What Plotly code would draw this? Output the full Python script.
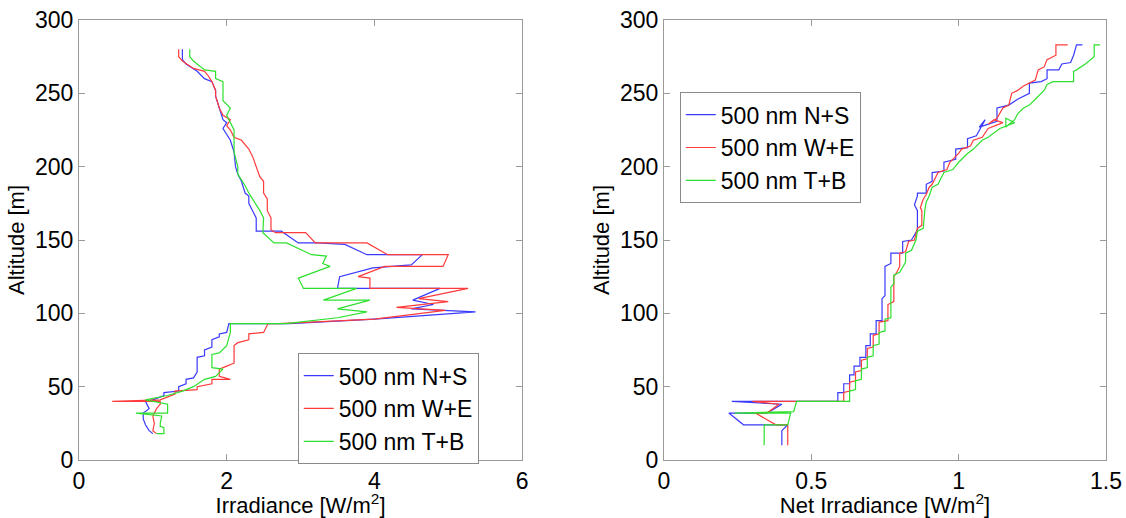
import plotly.graph_objects as go

# ---------------- data ----------------
series_names = ["500 nm N+S", "500 nm W+E", "500 nm T+B"]

# Left panel: (irradiance W/m2, altitude m), path order bottom -> top
left_ns = [(1.00,18),(0.95,20),(0.90,24),(0.87,28),(0.87,32),(0.95,35),(0.90,40),(1.00,41),(1.15,44),(1.15,46),
           (1.35,47),(1.35,50),(1.45,52),(1.45,55),(1.55,56),(1.60,60),(1.60,70),(1.70,71),(1.70,75),(1.80,77),
           (1.80,82),(1.90,84),(1.90,86),(2.00,87),(2.03,93),(2.85,93),(4.00,96),(5.37,101),(4.50,103),(4.80,106),
           (4.52,109),(4.89,117),(3.50,117),(3.53,125),(3.98,131),(4.50,133),(4.65,140),(3.90,140),(3.60,147),(3.24,148),
           (2.97,148),(2.74,156),(2.40,156),(2.40,165),(2.35,170),(2.30,175),(2.30,180),(2.25,182),(2.20,190),(2.15,195),
           (2.12,200),(2.10,210),(2.05,218),(2.00,222),(1.95,226),(2.00,230),(1.95,232),(1.90,240),(1.85,248),(1.85,252),
           (1.80,258),(1.70,260),(1.60,265),(1.45,270),(1.40,273),(1.40,280)]
left_we = [(1.05,18),(1.00,20),(1.02,25),(1.00,30),(1.05,35),(1.10,38),(1.10,40),(0.45,40),(1.10,41),(1.30,45),
           (1.30,47),(1.60,48),(1.60,50),(1.80,52),(1.80,55),(2.05,55),(1.90,57),(1.90,62),(2.00,64),(2.10,66),
           (2.10,78),(2.15,80),(2.30,82),(2.30,86),(2.50,87),(2.56,93),(2.70,93),(4.00,96),(4.96,102),(4.30,104),
           (5.00,108),(4.60,110),(5.27,117),(3.94,117),(3.94,124),(3.78,125),(4.14,132),(4.93,132),(5.00,140),(4.18,140),
           (3.90,148),(3.20,148),(3.07,155),(2.66,155),(2.60,157),(2.60,165),(2.55,170),(2.55,178),(2.50,182),(2.50,190),
           (2.45,193),(2.40,200),(2.35,207),(2.30,212),(2.20,218),(2.10,220),(2.05,225),(2.00,228),(2.05,232),(1.95,235),
           (1.90,240),(1.85,248),(1.85,252),(1.80,258),(1.75,262),(1.70,265),(1.55,267),(1.40,272),(1.35,275),(1.35,280)]
left_tb = [(1.05,18),(1.15,18),(1.15,22),(1.10,23),(1.10,25),(1.12,30),(0.77,32),(1.20,32),(1.20,38),(1.00,40),
           (0.90,41),(1.20,44),(1.40,47),(1.55,50),(1.65,53),(1.70,55),(1.85,57),(1.95,62),(1.80,63),(1.80,72),
           (1.90,73),(2.00,78),(2.05,87),(2.05,93),(2.80,93),(3.50,97),(3.90,101),(3.50,103),(3.94,109),(3.31,109),
           (3.76,117),(3.04,117),(2.97,124),(3.35,131),(3.40,132),(3.30,134),(3.35,139),(3.15,140),(2.85,147),(2.81,148),
           (2.64,148),(2.49,155),(2.50,165),(2.45,170),(2.35,178),(2.30,182),(2.25,187),(2.15,195),(2.15,200),(2.10,210),
           (2.10,225),(2.05,230),(2.00,235),(2.05,240),(1.95,245),(1.95,258),(1.85,260),(1.85,265),(1.70,266),(1.55,272),
           (1.50,275),(1.50,280)]

# Right panel: (net irradiance W/m2, altitude m)
right_ns = [(0.40,10),(0.40,20),(0.42,24),(0.27,24),(0.22,32),(0.35,32),(0.40,38),(0.23,40),(0.59,40),(0.59,46),
            (0.61,46),(0.61,52),(0.63,52),(0.63,58),(0.645,58),(0.645,64),(0.665,64),(0.665,70),(0.685,70),(0.685,78),
            (0.70,78),(0.70,86),(0.72,86),(0.72,95),(0.74,95),(0.74,110),(0.75,112),(0.75,132),(0.77,134),(0.77,141),
            (0.81,141),(0.81,149),(0.84,150),(0.86,157),(0.86,170),(0.85,174),(0.86,180),(0.86,182),(0.89,182),(0.89,188),
            (0.91,190),(0.91,196),(0.95,197),(0.95,203),(0.99,205),(0.99,212),(1.03,213),(1.03,219),(1.06,221),(1.08,228),
            (1.09,232),(1.07,227),(1.10,229),(1.13,231),(1.13,240),(1.17,242),(1.20,246),(1.22,248),(1.24,250),(1.24,257),
            (1.28,258),(1.30,260),(1.30,266),(1.34,266),(1.35,270),(1.38,271),(1.39,276),(1.40,283),(1.42,283)]
right_we = [(0.42,10),(0.42,24),(0.38,24),(0.31,32),(0.35,32),(0.39,38),(0.30,40),(0.61,40),(0.61,46),(0.63,47),
            (0.63,53),(0.65,54),(0.65,60),(0.67,61),(0.67,68),(0.69,69),(0.69,76),(0.71,77),(0.71,85),(0.73,86),
            (0.73,94),(0.76,95),(0.76,106),(0.78,108),(0.78,125),(0.79,128),(0.80,132),(0.80,141),(0.82,142),(0.83,149),
            (0.85,150),(0.86,158),(0.875,160),(0.875,170),(0.87,172),(0.88,178),(0.89,181),(0.90,186),(0.91,188),(0.93,196),
            (0.96,198),(0.97,203),(1.00,209),(1.01,212),(1.04,214),(1.05,218),(1.08,220),(1.10,226),(1.15,230),(1.12,232),
            (1.10,229),(1.13,233),(1.15,240),(1.17,242),(1.18,250),(1.20,252),(1.22,255),(1.26,259),(1.27,266),(1.29,268),
            (1.30,273),(1.33,276),(1.33,283),(1.37,283)]
right_tb = [(0.34,10),(0.34,24),(0.42,24),(0.43,32),(0.24,32),(0.44,33),(0.45,40),(0.63,40),(0.63,47),(0.65,48),
            (0.65,54),(0.67,55),(0.67,62),(0.69,63),(0.69,70),(0.71,71),(0.71,78),(0.73,79),(0.73,87),(0.75,88),
            (0.75,96),(0.77,97),(0.77,118),(0.78,120),(0.78,126),(0.80,128),(0.82,135),(0.82,141),(0.84,143),(0.855,150),
            (0.86,156),(0.88,158),(0.885,170),(0.89,176),(0.90,180),(0.91,186),(0.93,188),(0.95,196),(0.98,198),(1.00,203),
            (1.03,209),(1.05,212),(1.08,218),(1.10,220),(1.14,226),(1.19,230),(1.16,233),(1.16,227),(1.19,232),(1.20,236),
            (1.22,240),(1.24,242),(1.26,246),(1.28,250),(1.29,252),(1.30,256),(1.32,258),(1.39,258),(1.39,265),(1.40,266),
            (1.43,270),(1.46,275),(1.46,283),(1.48,283)]

left_ticks = [0, 2, 4, 6]
right_ticks = [0, 0.5, 1, 1.5]
right_ticktext = ["0", "0.5", "1", "1.5"]
alt_ticks = [0, 50, 100, 150, 200, 250, 300]

# ---------------- figure ----------------
colors = ["#3a3aff", "#ff3a3a", "#2ee02e"]
FONT = "Liberation Sans, Arial, Helvetica, sans-serif"

fig = go.Figure()
for name, pts, col in zip(series_names, [left_ns, left_we, left_tb], colors):
    fig.add_trace(go.Scatter(x=[p[0] for p in pts], y=[p[1] for p in pts], mode="lines",
                             name=name, line=dict(color=col, width=1.2),
                             xaxis="x", yaxis="y", legend="legend"))
for name, pts, col in zip(series_names, [right_ns, right_we, right_tb], colors):
    fig.add_trace(go.Scatter(x=[p[0] for p in pts], y=[p[1] for p in pts], mode="lines",
                             name=name, line=dict(color=col, width=1.2),
                             xaxis="x2", yaxis="y2", legend="legend2"))

axis_common = dict(showline=True, linecolor="#9a9a9a", linewidth=1, mirror="allticks",
                   ticks="inside", ticklen=6, tickcolor="#9a9a9a", tickwidth=1,
                   showgrid=False, zeroline=False,
                   tickfont=dict(family=FONT, size=23, color="black"),
                   title_font=dict(family=FONT, size=22, color="black"))

legend_common = dict(bgcolor="white", bordercolor="#8a8a8a", borderwidth=1,
                     font=dict(family=FONT, size=23, color="black"),
                     xanchor="left", yanchor="top", tracegroupgap=0, itemwidth=30)

fig.update_layout(
    width=1126, height=518,
    margin=dict(l=79, r=20, t=20, b=58),
    paper_bgcolor="white", plot_bgcolor="white",
    showlegend=True,
    xaxis=dict(domain=[0, 0.4314], range=[0, 6], tickvals=left_ticks, anchor="y",
               title=dict(text="Irradiance [W/m<sup>2</sup>]", standoff=3), automargin=False, **axis_common),
    yaxis=dict(domain=[0, 1], range=[0, 300], tickvals=alt_ticks, anchor="x",
               title=dict(text="Altitude [m]", standoff=4), automargin=False, **axis_common),
    xaxis2=dict(domain=[0.5696, 1], range=[0, 1.5], tickvals=right_ticks, ticktext=right_ticktext, anchor="y2",
                title=dict(text="Net Irradiance [W/m<sup>2</sup>]", standoff=3), automargin=False, **axis_common),
    yaxis2=dict(domain=[0, 1], range=[0, 300], tickvals=alt_ticks, anchor="x2",
                title=dict(text="Altitude [m]", standoff=4), automargin=False, **axis_common),
    legend=dict(x=0.213, y=0.243, **legend_common),
    legend2=dict(x=0.585, y=0.836, **legend_common),
)

fig.write_html("out.html", config={"displayModeBar": False},
               post_script="document.body.style.margin='0px';")
